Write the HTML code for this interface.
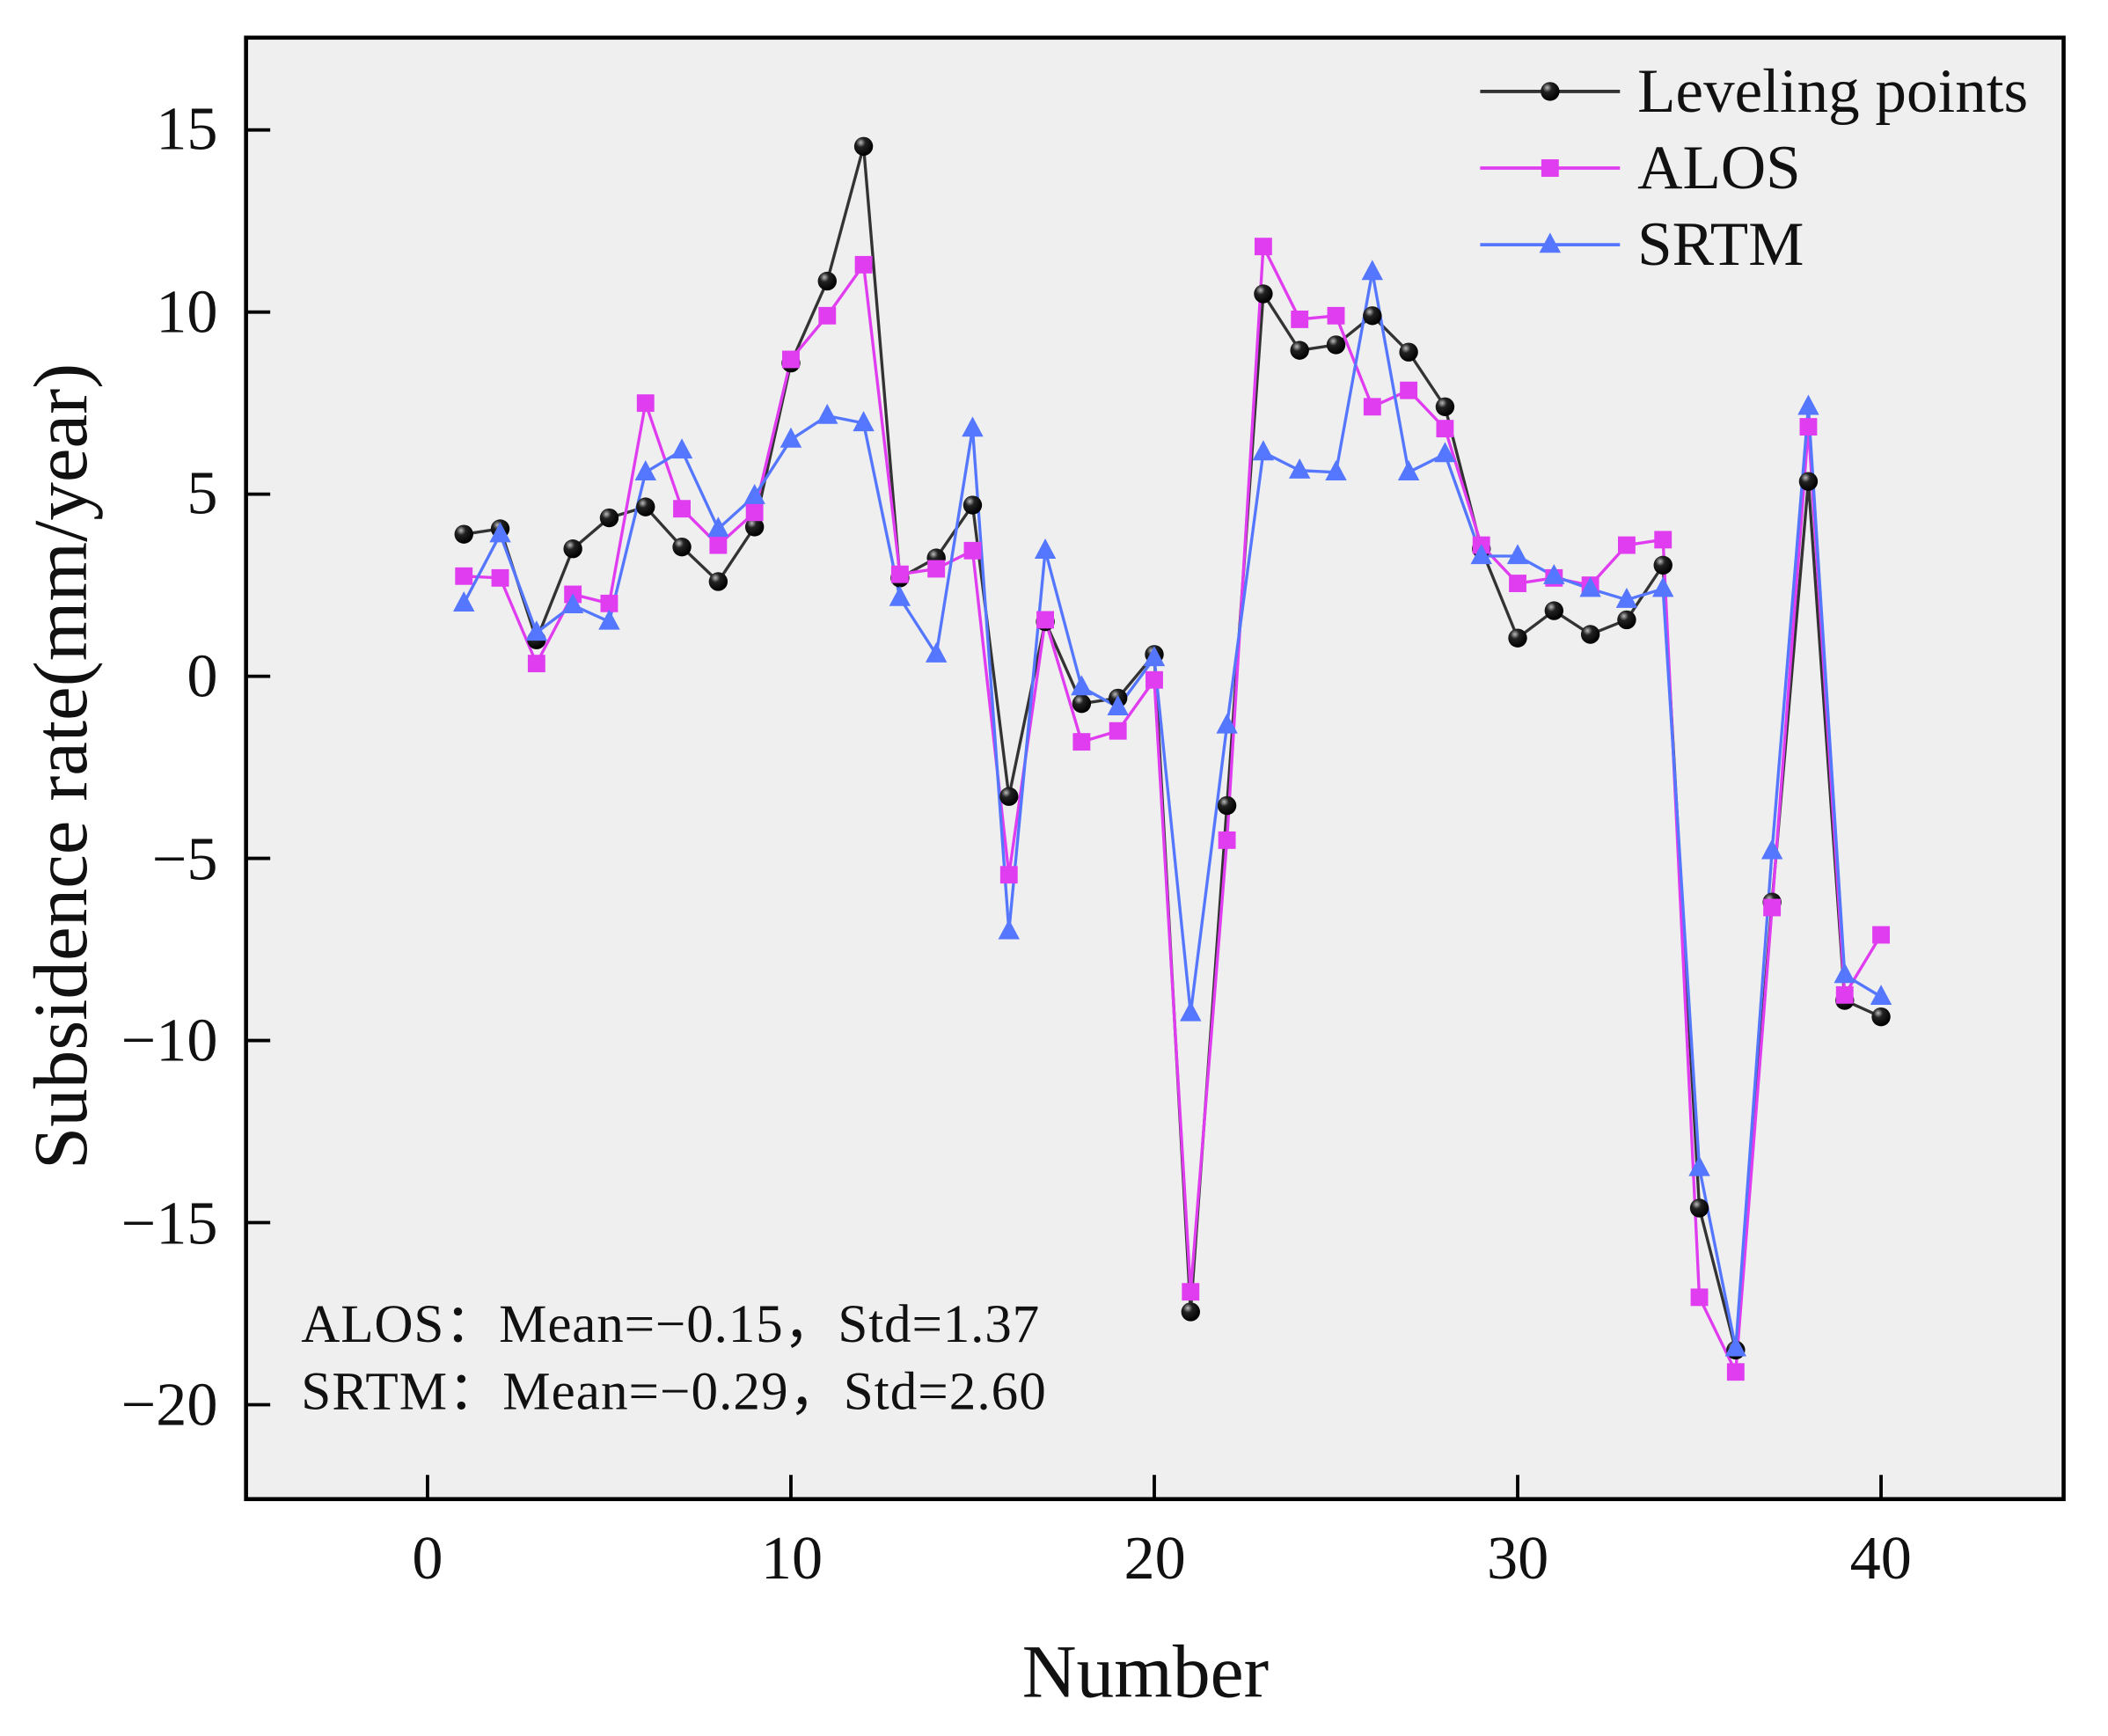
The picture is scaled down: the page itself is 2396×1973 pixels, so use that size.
<!DOCTYPE html>
<html><head><meta charset="utf-8"><style>html,body{margin:0;padding:0;background:#fff}svg{display:block}</style></head>
<body>
<svg id="s" width="2396" height="1973" viewBox="0 0 1568 1291.2" xmlns="http://www.w3.org/2000/svg" font-family="Liberation Serif, serif">
<defs><radialGradient id="g" cx="0.35" cy="0.3" r="0.7"><stop offset="0" stop-color="#bbb"/><stop offset="0.35" stop-color="#222"/><stop offset="1" stop-color="#000"/></radialGradient></defs>
<rect x="183" y="28" width="1352" height="1087" fill="#efefef"/>
<g id="ticks" stroke="#000" stroke-width="2.5"></g>
<g id="data"></g>
<rect x="183" y="28" width="1352" height="1087" fill="none" stroke="#000" stroke-width="3"/>
<g font-size="46" text-anchor="end" fill="#111">
<text x="162" y="111">15</text><text x="162" y="247">10</text><text x="162" y="382">5</text><text x="162" y="518">0</text>
<text x="162" y="654">−5</text><text x="162" y="789">−10</text><text x="162" y="925">−15</text><text x="162" y="1060">−20</text>
</g>
<g font-size="46" text-anchor="middle" fill="#111">
<text x="318" y="1174">0</text><text x="589" y="1174">10</text><text x="859" y="1174">20</text><text x="1129" y="1174">30</text><text x="1399" y="1174">40</text>
</g>
<text x="852" y="1262" font-size="56" text-anchor="middle" fill="#111">Number</text>
<text transform="translate(64,570) rotate(-90)" font-size="57" text-anchor="middle" fill="#111">Subsidence rate(mm/year)</text>
<g font-size="40" fill="#111">
<text x="224" y="998" textLength="549">ALOS：Mean=−0.15，Std=1.37</text>
<text x="224" y="1048" textLength="554">SRTM：Mean=−0.29，Std=2.60</text>
</g>
<g font-size="46.5" fill="#111">
<text x="1218" y="83">Leveling points</text><text x="1218" y="140">ALOS</text><text x="1218" y="197">SRTM</text>
</g>
<g id="leg"></g>
</svg>
<script>
var L=[3.9,4.05,1.0,3.5,4.35,4.65,3.55,2.6,4.1,8.6,10.85,14.55,2.7,3.25,4.7,-3.3,1.5,-0.75,-0.6,0.6,-17.45,-3.55,10.5,8.95,9.1,9.9,8.9,7.4,3.5,1.05,1.8,1.15,1.55,3.05,-14.6,-18.5,-6.2,5.35,-8.9,-9.35];
var A=[2.75,2.7,0.35,2.25,2.0,7.5,4.6,3.6,4.5,8.7,9.9,11.3,2.8,2.95,3.45,-5.45,1.55,-1.8,-1.5,-0.1,-16.9,-4.5,11.8,9.8,9.9,7.4,7.85,6.8,3.6,2.55,2.7,2.5,3.6,3.75,-17.05,-19.1,-6.35,6.85,-8.75,-7.1];
var S=[2.0,3.9,1.2,1.95,1.5,5.6,6.2,4.05,4.95,6.5,7.15,6.95,2.15,0.6,6.8,-7.0,3.45,-0.3,-0.85,0.5,-9.25,-1.35,6.15,5.65,5.6,11.1,5.6,6.1,3.3,3.3,2.75,2.4,2.1,2.4,-13.5,-18.45,-4.8,7.4,-8.2,-8.8];
function X(i){return 318+27.03*i}function Y(v){return 503-27.09*v}
var h='';
var t='';
for(var v=-20;v<=15;v+=5)t+='<line x1="183" x2="201" y1="'+Y(v)+'" y2="'+Y(v)+'"/>';
for(var i=0;i<=40;i+=10)t+='<line x1="'+X(i)+'" x2="'+X(i)+'" y1="1115" y2="1097"/>';
document.getElementById('ticks').innerHTML=t;
function mk(type,x,y){
 if(type==0)return '<circle cx="'+x+'" cy="'+y+'" r="7" fill="url(#g)"/>';
 if(type==1)return '<rect x="'+(x-6.5)+'" y="'+(y-6.5)+'" width="13" height="13" fill="#e03cf0"/>';
 return '<polygon points="'+x+','+(y-9)+' '+(x-8)+','+(y+6)+' '+(x+8)+','+(y+6)+'" fill="#5577ff"/>';
}
var sets=[[L,'#333',0],[A,'#e03cf0',1],[S,'#5577ff',2]];
sets.forEach(function(s){var p=s[0].map(function(v,i){return X(i+1)+','+Y(v)}).join(' ');
 h+='<polyline points="'+p+'" fill="none" stroke="'+s[1]+'" stroke-width="2.2"/>';});
sets.forEach(function(s){s[0].forEach(function(v,i){h+=mk(s[2],X(i+1),Y(v))});});
document.getElementById('data').innerHTML=h;
var g='';var ys=[68,125,182];
sets.forEach(function(s,k){g+='<line x1="1101" x2="1205" y1="'+ys[k]+'" y2="'+ys[k]+'" stroke="'+s[1]+'" stroke-width="2.5"/>'+mk(s[2],1153,ys[k]);});
document.getElementById('leg').innerHTML=g;
</script>
</body></html>
